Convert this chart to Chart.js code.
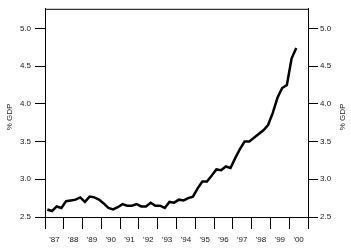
<!DOCTYPE html>
<html>
<head>
<meta charset="utf-8">
<script src="https://cdn.jsdelivr.net/npm/chart.js@4/dist/chart.umd.min.js"></script>
<style>
  html, body { margin: 0; padding: 0; background: #fff; }
  #wrap { width: 351px; height: 249px; }
</style>
</head>
<body>
<div id="wrap"><canvas id="c" width="351" height="249"></canvas></div>
<script>
// ---- data ----
const quarters = [
  '1987Q1','1987Q2','1987Q3','1987Q4','1988Q1','1988Q2','1988Q3','1988Q4',
  '1989Q1','1989Q2','1989Q3','1989Q4','1990Q1','1990Q2','1990Q3','1990Q4',
  '1991Q1','1991Q2','1991Q3','1991Q4','1992Q1','1992Q2','1992Q3','1992Q4',
  '1993Q1','1993Q2','1993Q3','1993Q4','1994Q1','1994Q2','1994Q3','1994Q4',
  '1995Q1','1995Q2','1995Q3','1995Q4','1996Q1','1996Q2','1996Q3','1996Q4',
  '1997Q1','1997Q2','1997Q3','1997Q4','1998Q1','1998Q2','1998Q3','1998Q4',
  '1999Q1','1999Q2','1999Q3','1999Q4','2000Q1','2000Q2'
];
const gdpShare = [
  2.60, 2.58, 2.64, 2.62, 2.71, 2.72, 2.73, 2.76,
  2.70, 2.77, 2.76, 2.73, 2.68, 2.62, 2.60, 2.63,
  2.67, 2.65, 2.65, 2.67, 2.64, 2.64, 2.69, 2.65,
  2.65, 2.62, 2.70, 2.69, 2.73, 2.72, 2.75, 2.77,
  2.88, 2.97, 2.97, 3.05, 3.13, 3.12, 3.17, 3.15,
  3.28, 3.40, 3.50, 3.50, 3.55, 3.60, 3.65, 3.72,
  3.88, 4.08, 4.21, 4.25, 4.60, 4.74
];
const years = [1987,1988,1989,1990,1991,1992,1993,1994,1995,1996,1997,1998,1999,2000];
const yearLabels = ["'87","'88","'89","'90","'91","'92","'93","'94","'95","'96","'97","'98","'99","'00"];
const yTicks = [2.5, 3.0, 3.5, 4.0, 4.5, 5.0];
const axisTitle = '% GDP';

// ---- build points ----
function qToYear(q) {
  const y = parseInt(q.slice(0, 4), 10);
  const n = parseInt(q.slice(5), 10);
  return y + (n - 1) * 0.25 + 0.125;
}
const points = quarters.map((q, i) => ({ x: qToYear(q), y: gdpShare[i] }));

const xTickValues = [];
years.forEach(y => { xTickValues.push(y); xTickValues.push(y + 0.5); });
xTickValues.push(years[years.length - 1] + 1);

const FONT = { family: "'Liberation Sans', Arial, sans-serif", size: 8 };
const TXT = '#1a1a1a';

const framePlugin = {
  id: 'frame',
  afterDraw(chart) {
    const { ctx, chartArea } = chart;
    ctx.save();
    ctx.strokeStyle = '#000';
    ctx.lineWidth = 1;
    ctx.beginPath();
    ctx.moveTo(chartArea.left, chartArea.top + 0.5);
    ctx.lineTo(chartArea.right, chartArea.top + 0.5);
    ctx.stroke();
    ctx.fillStyle = TXT;
    ctx.font = FONT.size + 'px ' + FONT.family;
    ctx.textAlign = 'center';
    ctx.textBaseline = 'middle';
    const cy = (chartArea.top + chartArea.bottom) / 2 + 4;
    [10, chart.width - 8].forEach(x => {
      ctx.save();
      ctx.translate(x, cy);
      ctx.rotate(-Math.PI / 2);
      ctx.fillText(axisTitle, 0, 0);
      ctx.restore();
    });
    ctx.restore();
  }
};

new Chart(document.getElementById('c'), {
  type: 'line',
  data: {
    datasets: [{
      data: points,
      borderColor: '#000',
      borderWidth: 2.5,
      pointRadius: 0,
      tension: 0,
      fill: false
    }]
  },
  options: {
    responsive: false,
    animation: false,
    layout: { padding: { top: 5, left: 0, right: 0, bottom: 0 } },
    plugins: { legend: { display: false }, tooltip: { enabled: false } },
    scales: {
      x: {
        type: 'linear',
        min: years[0],
        max: years[years.length - 1] + 1,
        afterBuildTicks: s => { s.ticks = xTickValues.map(v => ({ value: v })); },
        afterFit: s => { s.height = 32; },
        border: { display: true, color: '#000', width: 1 },
        grid: {
          drawOnChartArea: false,
          drawTicks: true,
          tickLength: 12,
          color: c => (c.tick && Number.isInteger(c.tick.value)) ? '#000' : 'rgba(0,0,0,0)',
          lineWidth: 1
        },
        ticks: {
          autoSkip: false,
          maxRotation: 0,
          minRotation: 0,
          padding: 6,
          color: TXT,
          font: FONT,
          callback: v => {
            const idx = years.indexOf(Math.floor(v));
            return (!Number.isInteger(v) && idx >= 0) ? yearLabels[idx] : '';
          }
        }
      },
      y: {
        position: 'left',
        min: 2.5,
        max: 5.26,
        afterBuildTicks: s => { s.ticks = yTicks.map(v => ({ value: v })); },
        afterFit: s => { s.width = 45; },
        border: { display: true, color: '#000', width: 1 },
        grid: { drawOnChartArea: false, drawTicks: true, tickLength: 10, color: '#000' },
        ticks: { padding: 4, color: TXT, font: FONT, callback: v => v.toFixed(1) }
      },
      y2: {
        position: 'right',
        min: 2.5,
        max: 5.26,
        afterBuildTicks: s => { s.ticks = yTicks.map(v => ({ value: v })); },
        afterFit: s => { s.width = 43; },
        border: { display: true, color: '#000', width: 1 },
        grid: { drawOnChartArea: false, drawTicks: true, tickLength: 10, color: '#000' },
        ticks: { padding: 2, color: TXT, font: FONT, callback: v => v.toFixed(1) }
      }
    }
  },
  plugins: [framePlugin]
});
</script>
</body>
</html>
